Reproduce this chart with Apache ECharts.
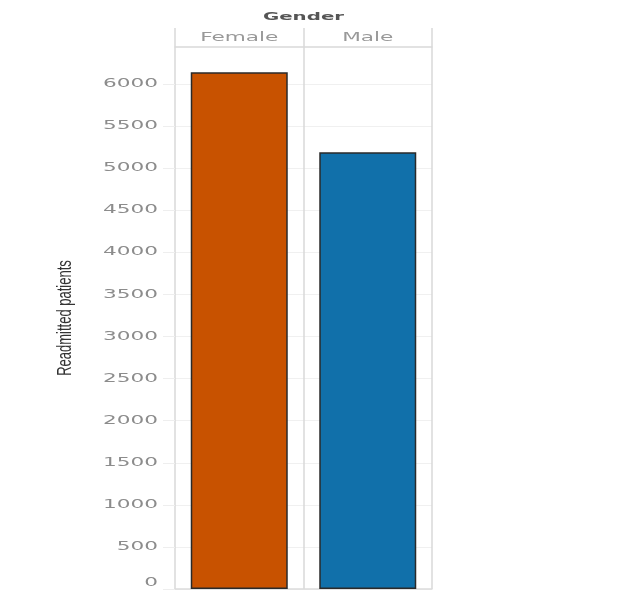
<!DOCTYPE html>
<html><head><meta charset="utf-8">
<script src="https://cdn.jsdelivr.net/npm/echarts@6/dist/echarts.min.js"></script>
<style>html,body{margin:0;padding:0;background:#fff}#c{width:630px;height:595px}</style>
</head><body><div id="c"></div>
<script>
const categories = ["Female", "Male"];
const values = [6140, 5190];
const barColors = ["#c85200", "#1170aa"];
const yTickLabels = [0, 500, 1000, 1500, 2000, 2500, 3000, 3500, 4000, 4500, 5000, 5500, 6000];
const headerTitle = "Gender";
const yTitle = "Readmitted patients";

const stretch = 1.8;
const chart = echarts.init(document.getElementById('c'));
chart.setOption({
  animation: false,
  grid: [
    { left: 175, right: 198, top: 47, bottom: 6 },
    { left: 175, right: 198, top: 28, height: 19 }
  ],
  xAxis: [{
    type: 'category', data: categories, position: 'top', gridIndex: 0,
    axisLine: { show: true, onZero: false, lineStyle: { color: '#d9d9d9', width: 1.5 } },
    axisTick: { show: false },
    axisLabel: { show: false },
    splitLine: { show: true, lineStyle: { color: '#d9d9d9', width: 1.5 } }
  }, {
    type: 'category', data: categories, gridIndex: 1,
    axisLine: { show: false }, axisTick: { show: false }, axisLabel: { show: false },
    splitLine: { show: true, lineStyle: { color: '#d9d9d9', width: 1.5 } }
  }, {
    type: 'category', data: categories, gridIndex: 0, position: 'bottom',
    axisLine: { show: true, onZero: false, lineStyle: { color: '#dcdcdc', width: 1.5 } },
    axisTick: { show: false }, axisLabel: { show: false }, splitLine: { show: false }
  }],
  yAxis: [{
    type: 'value', min: 0, max: 6440, interval: 500, gridIndex: 0,
    axisLine: { show: false },
    axisTick: { show: true, length: 12, customValues: yTickLabels, lineStyle: { color: '#eeeeee' } },
    axisLabel: { show: false },
    splitLine: { show: true, lineStyle: { color: '#f0f0f0', width: 1 } }
  }, {
    type: 'value', gridIndex: 1, show: false, splitLine: { show: false }
  }],
  series: [{
    type: 'bar', barWidth: 97, xAxisIndex: 0, yAxisIndex: 0,
    data: values.map((v, i) => ({ value: v, itemStyle: { color: barColors[i] } })),
    itemStyle: { borderColor: '#2a2a2a', borderWidth: 1.5 }
  }]
});

// stretched text labels positioned through the axes' own scales
const graphics = [];
const font = '"DejaVu Sans"';
yTickLabels.forEach(v => {
  const py = chart.convertToPixel({ yAxisIndex: 0 }, v);
  graphics.push({ type: 'text', x: 158, y: py, scaleX: stretch, silent: true,
    style: { text: String(v), fill: '#8c8c8c', font: '12px ' + font, textAlign: 'right',
      textVerticalAlign: v === 0 ? 'bottom' : 'middle' } });
});
const px = categories.map(c => chart.convertToPixel({ xAxisIndex: 0 }, c));
categories.forEach((c, i) => {
  graphics.push({ type: 'text', x: px[i], y: 38, scaleX: stretch, silent: true,
    style: { text: c, fill: '#999', font: '12px ' + font, textAlign: 'center', textVerticalAlign: 'middle' } });
});
const mid = (px[0] + px[1]) / 2;
graphics.push({ type: 'text', x: mid, y: 17, scaleX: stretch, silent: true,
  style: { text: headerTitle, fill: '#555', font: 'bold 11px ' + font, textAlign: 'center', textVerticalAlign: 'middle' } });
const yMid = (chart.convertToPixel({ yAxisIndex: 0 }, 0) + chart.convertToPixel({ yAxisIndex: 0 }, 6440)) / 2;
graphics.push({ type: 'text', x: 66, y: yMid, rotation: Math.PI / 2, scaleY: 1.5, silent: true,
  style: { text: yTitle, fill: '#333', font: '13px "Liberation Sans Narrow", "Liberation Sans"', textAlign: 'center', textVerticalAlign: 'middle' } });
chart.setOption({ graphic: graphics });
</script></body></html>
